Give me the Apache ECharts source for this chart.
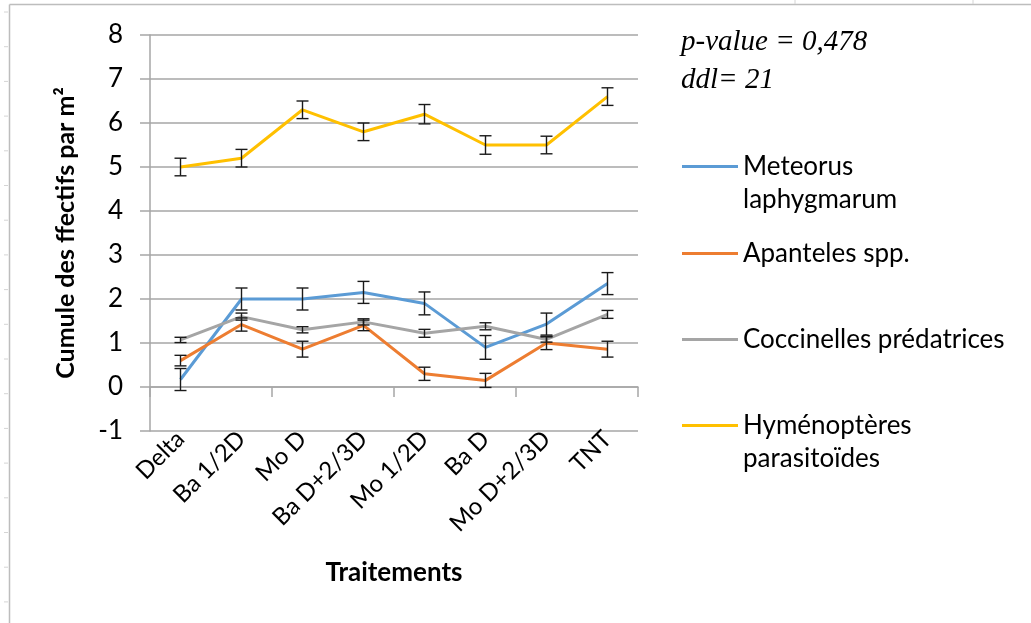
<!DOCTYPE html>
<html>
<head>
<meta charset="utf-8">
<script src="https://cdn.jsdelivr.net/npm/echarts@6/dist/echarts.min.js"></script>
<style>
  html, body { margin: 0; padding: 0; background: #fff; }
  #chart { width: 1031px; height: 623px; }
</style>
</head>
<body>
<div id="chart"></div>
<script>
// treatments on the x axis
const categories = ['Delta', 'Ba 1/2D', 'Mo D', 'Ba D+2/3D', 'Mo 1/2D', 'Ba D', 'Mo D+2/3D', 'TNT'];

// mean values per treatment
const meteorus    = [0.17, 2.0, 2.0, 2.15, 1.9, 0.9, 1.43, 2.35];
const apanteles   = [0.6, 1.42, 0.86, 1.4, 0.3, 0.15, 1.0, 0.86];
const coccinelles = [1.07, 1.6, 1.3, 1.48, 1.22, 1.38, 1.08, 1.65];
const hymeno      = [5.0, 5.2, 6.3, 5.8, 6.2, 5.5, 5.5, 6.6];

// error bar half-widths
const meteorusErr    = [0.25, 0.25, 0.25, 0.25, 0.26, 0.27, 0.25, 0.25];
const apantelesErr   = [0.12, 0.15, 0.18, 0.12, 0.15, 0.16, 0.15, 0.18];
const coccinellesErr = [0.06, 0.08, 0.07, 0.07, 0.09, 0.08, 0.06, 0.09];
const hymenoErr      = [0.2, 0.2, 0.2, 0.2, 0.22, 0.21, 0.2, 0.2];

const names = ['Meteorus laphygmarum', 'Apanteles spp.', 'Coccinelles prédatrices', 'Hyménoptères parasitoïdes'];
const colors = ['#5b9bd5', '#ed7d31', '#a5a5a5', '#ffc000'];

const font = 'Lato, "Open Sans", sans-serif';
const gridColor = '#a6a6a6';

function lineSeries(name, data, color) {
    return {
        name: name,
        type: 'line',
        xAxisIndex: 0,
        data: data,
        symbol: 'none',
        lineStyle: { color: color, width: 3 },
        itemStyle: { color: color },
        z: 3
    };
}

// I-shaped error bars, placed through the axes
function errorSeries(values, errs) {
    return {
        type: 'custom',
        name: 'err',
        xAxisIndex: 0,
        z: 5,
        silent: true,
        data: values.map((v, i) => [i, v, errs[i]]),
        renderItem(params, api) {
            let i = api.value(0), v = api.value(1), e = api.value(2);
            let hi = api.coord([i, v + e]);
            let lo = api.coord([i, v - e]);
            let w = 6;
            let st = { stroke: '#1a1a1a', lineWidth: 1.4 };
            return {
                type: 'group',
                children: [
                    { type: 'line', shape: { x1: hi[0], y1: hi[1], x2: lo[0], y2: lo[1] }, style: st },
                    { type: 'line', shape: { x1: hi[0] - w, y1: hi[1], x2: hi[0] + w, y2: hi[1] }, style: st },
                    { type: 'line', shape: { x1: lo[0] - w, y1: lo[1], x2: lo[0] + w, y2: lo[1] }, style: st }
                ]
            };
        }
    };
}

// one legend per entry, the line sits level with the first text line
function legendAt(name, top, label) {
    return {
        data: [name],
        left: 682,
        top: top,
        orient: 'vertical',
        padding: 0,
        itemWidth: 56,
        itemHeight: 3,
        icon: 'rect',
        selectedMode: false,
        formatter: () => label,
        textStyle: {
            fontFamily: font,
            fontSize: 26,
            color: '#000',
            lineHeight: 33
        }
    };
}

// sheet grid lines left of the chart frame
const sheetMarks = [];
for (let y = 12; y < 623; y += 34.7) {
    sheetMarks.push({ type: 'line', shape: { x1: 4, y1: y, x2: 8, y2: y }, style: { stroke: '#d4d4d4', lineWidth: 1 } });
}

const chart = echarts.init(document.getElementById('chart'), null, { renderer: 'canvas' });

chart.setOption({
    backgroundColor: '#fff',
    animation: false,
    title: {
        text: 'p-value = 0,478\nddl= 21',
        left: 681,
        top: 23,
        padding: 0,
        textStyle: {
            fontFamily: '"Liberation Serif", "DejaVu Serif", serif',
            fontStyle: 'italic',
            fontWeight: 'normal',
            fontSize: 29,
            lineHeight: 38,
            color: '#000'
        }
    },
    legend: [
        legendAt(names[0], 117, ' \nMeteorus\nlaphygmarum'),
        legendAt(names[1], 237, 'Apanteles spp.'),
        legendAt(names[2], 323, 'Coccinelles prédatrices'),
        legendAt(names[3], 376, ' \nHyménoptères\nparasitoïdes')
    ],
    grid: { left: 150, right: 393, top: 35, bottom: 192, containLabel: false },
    xAxis: [
        {
            type: 'category',
            data: categories,
            boundaryGap: true,
            axisLine: { onZero: true, lineStyle: { color: gridColor, width: 1.5 } },
            axisTick: { show: true, length: 10, lineStyle: { color: gridColor, width: 1.5 } },
            axisLabel: { show: false },
            splitLine: { show: false }
        },
        {
            type: 'category',
            data: categories,
            position: 'bottom',
            boundaryGap: true,
            axisLine: { show: false },
            axisTick: { show: false },
            axisLabel: {
                rotate: 45,
                margin: 4,
                fontFamily: font,
                fontSize: 24,
                color: '#000',
                interval: 0
            },
            name: 'Traitements',
            nameLocation: 'middle',
            nameGap: 129,
            nameTextStyle: { fontFamily: font, fontSize: 26, fontWeight: 'bold', color: '#000' }
        }
    ],
    yAxis: {
        type: 'value',
        min: -1,
        max: 8,
        interval: 1,
        axisLine: { show: true, lineStyle: { color: gridColor, width: 1.5 } },
        axisTick: { show: true, length: 10, lineStyle: { color: gridColor, width: 1.5 } },
        axisLabel: { margin: 27, fontFamily: font, fontSize: 26, color: '#000' },
        splitLine: { lineStyle: { color: gridColor, width: 1.5 } },
        name: 'Cumule des ffectifs par m²',
        nameLocation: 'middle',
        nameRotate: 90,
        nameGap: 72,
        nameTextStyle: { fontFamily: font, fontSize: 25, fontWeight: 'bold', color: '#000' }
    },
    series: [
        lineSeries(names[0], meteorus, colors[0]),
        lineSeries(names[1], apanteles, colors[1]),
        lineSeries(names[2], coccinelles, colors[2]),
        lineSeries(names[3], hymeno, colors[3]),
        errorSeries(meteorus, meteorusErr),
        errorSeries(apanteles, apantelesErr),
        errorSeries(coccinelles, coccinellesErr),
        errorSeries(hymeno, hymenoErr)
    ],
    graphic: [
        { type: 'line', shape: { x1: 9.5, y1: 4.5, x2: 9.5, y2: 623 }, style: { stroke: '#bdbdbd', lineWidth: 1.5 } },
        { type: 'line', shape: { x1: 9.5, y1: 4.5, x2: 1031, y2: 4.5 }, style: { stroke: '#bdbdbd', lineWidth: 1.5 } },
        { type: 'line', shape: { x1: 795, y1: 0, x2: 795, y2: 4 }, style: { stroke: '#d4d4d4', lineWidth: 1 } },
        { type: 'line', shape: { x1: 973, y1: 0, x2: 973, y2: 4 }, style: { stroke: '#d4d4d4', lineWidth: 1 } }
    ].concat(sheetMarks)
});
</script>
</body>
</html>
